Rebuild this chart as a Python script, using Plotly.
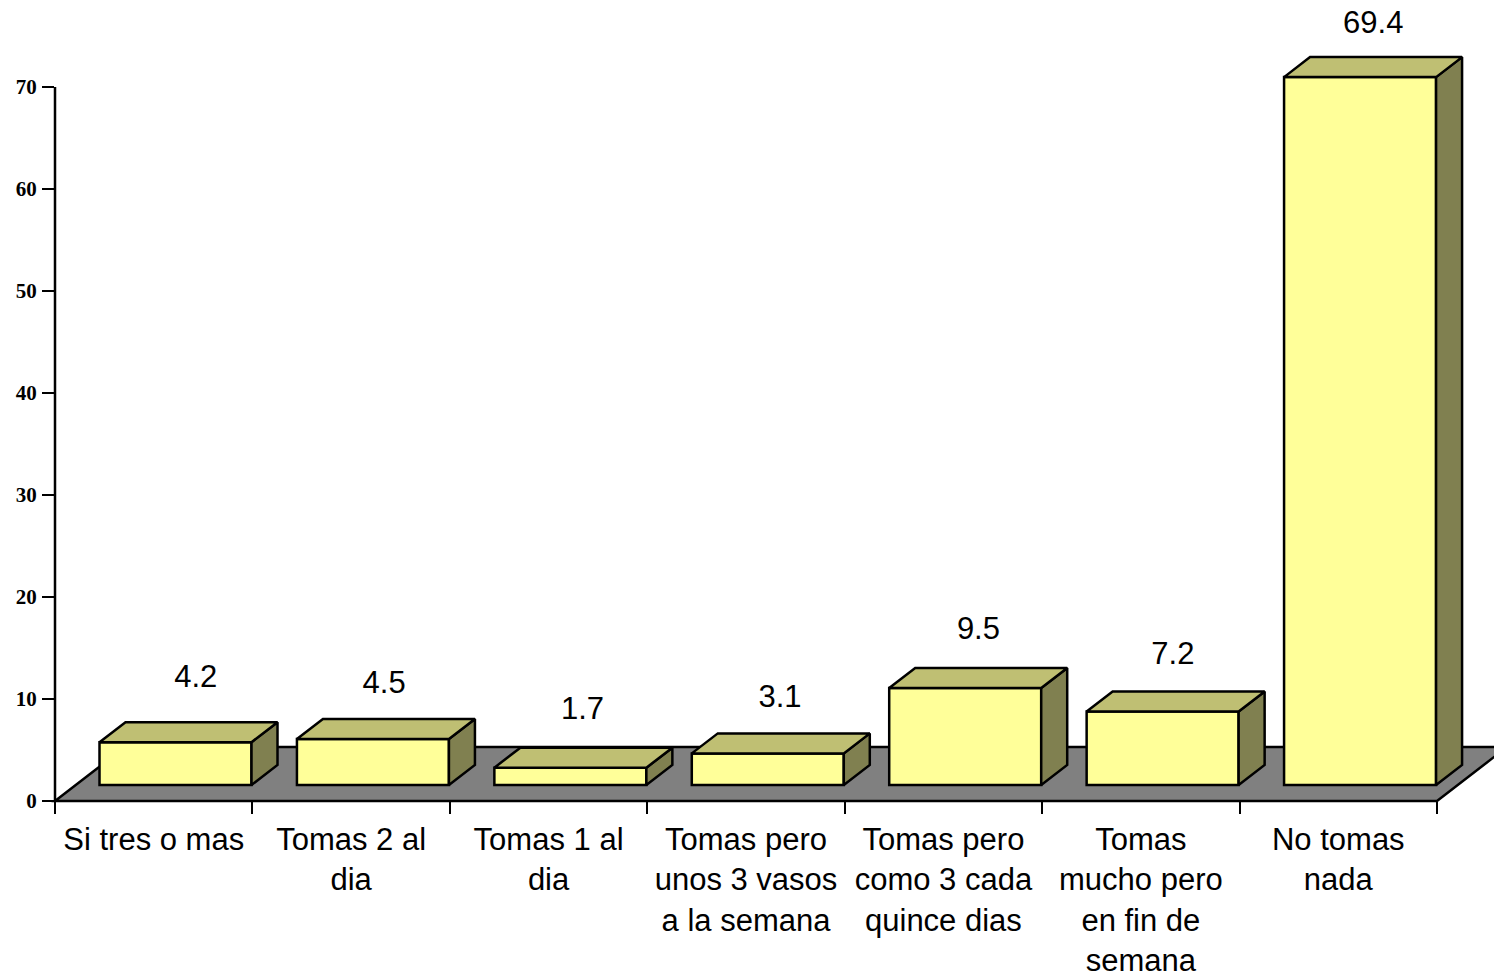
import plotly.graph_objects as go

categories = [
    "Si tres o mas",
    "Tomas 2 al<br>dia",
    "Tomas 1 al<br>dia",
    "Tomas pero<br>unos 3 vasos<br>a la semana",
    "Tomas pero<br>como 3 cada<br>quince dias",
    "Tomas<br>mucho pero<br>en fin de<br>semana",
    "No tomas<br>nada",
]
values = [4.2, 4.5, 1.7, 3.1, 9.5, 7.2, 69.4]
y_ticks = [0, 10, 20, 30, 40, 50, 60, 70]

# page size and where the axes sit on it, in pixels
WIDTH, HEIGHT = 1494, 975
LEFT, RIGHT, BOTTOM, TOP = 55, 1437, 801, 87
PX_X = (RIGHT - LEFT) / len(values)  # pixels per category
PX_Y = (BOTTOM - TOP) / 70  # pixels per unit

# the fake 3D look
BAR_W = 152 / PX_X
BAR_OFFSET = 44.5 / PX_X - 0.5  # left edge of a bar from the category centre
BASE = 16 / PX_Y
DEPTH_X = 26 / PX_X
DEPTH_Y = 20 / PX_Y
FLOOR_X = 70
FLOOR_Y = 54
LINE_W = 2.5

# how far each value label sits from its bar, in pixels
label_dx = [42, 33, 34, 34, 35, 32, 35]
label_dy = [63, 54, 56, 54, 57, 55, 52]

xs = list(range(len(values)))

tops_x, tops_y, sides_x, sides_y = [], [], [], []
for i, v in zip(xs, values):
    x0 = i + BAR_OFFSET
    x1 = x0 + BAR_W
    y0 = BASE
    y1 = BASE + v
    tops_x += [x0, x1, x1 + DEPTH_X, x0 + DEPTH_X, x0, None]
    tops_y += [y1, y1, y1 + DEPTH_Y, y1 + DEPTH_Y, y1, None]
    sides_x += [x1, x1 + DEPTH_X, x1 + DEPTH_X, x1, x1, None]
    sides_y += [y0, y0 + DEPTH_Y, y1 + DEPTH_Y, y1, y0, None]

fig = go.Figure()
fig.add_trace(go.Bar(
    x=xs, y=values, base=BASE, width=BAR_W, offset=BAR_OFFSET,
    marker=dict(color="#FFFF99", line=dict(color="black", width=LINE_W)),
))
fig.add_trace(go.Scatter(
    x=sides_x, y=sides_y, mode="lines", fill="toself", fillcolor="#808050",
    line=dict(color="black", width=LINE_W),
))
fig.add_trace(go.Scatter(
    x=tops_x, y=tops_y, mode="lines", fill="toself", fillcolor="#BFBF73",
    line=dict(color="black", width=LINE_W),
))
fig.add_trace(go.Scatter(
    x=[i + dx / PX_X for i, dx in zip(xs, label_dx)],
    y=[BASE + v + dy / PX_Y for v, dy in zip(values, label_dy)],
    mode="text", text=[str(v) for v in values], textposition="middle center",
    textfont=dict(family="Liberation Sans", size=31, color="black"),
    cliponaxis=False,
))

# floor under the bars, its front edge doubles as the x axis line
floor_path = "M {} {} L {} {} L {} {} L {} {} Z".format(
    LEFT / WIDTH, 1 - BOTTOM / HEIGHT,
    RIGHT / WIDTH, 1 - BOTTOM / HEIGHT,
    (RIGHT + FLOOR_X) / WIDTH, 1 - (BOTTOM - FLOOR_Y) / HEIGHT,
    (LEFT + FLOOR_X) / WIDTH, 1 - (BOTTOM - FLOOR_Y) / HEIGHT,
)
fig.add_shape(
    type="path", path=floor_path, xref="paper", yref="paper", layer="below",
    fillcolor="#808080", line=dict(color="black", width=LINE_W),
)
# y axis line stops at 70 though the plot goes on above it
fig.add_shape(
    type="line", xref="paper", yref="y",
    x0=LEFT / WIDTH, x1=LEFT / WIDTH, y0=0, y1=y_ticks[-1],
    line=dict(color="black", width=LINE_W),
)

fig.update_layout(
    template="none",
    width=WIDTH,
    height=HEIGHT,
    margin=dict(l=0, r=0, t=0, b=0),
    showlegend=False,
    barmode="overlay",
    plot_bgcolor="rgba(0,0,0,0)",
    paper_bgcolor="white",
    xaxis=dict(
        domain=[LEFT / WIDTH, 1],
        range=[-0.5, (WIDTH - LEFT) / PX_X - 0.5],
        automargin=False,
        tickmode="array",
        tickvals=xs,
        ticktext=categories,
        ticks="",
        ticklabelstandoff=17,
        tickfont=dict(family="Liberation Sans", size=31, color="black"),
        minor=dict(
            tickmode="array",
            tickvals=[i - 0.5 for i in range(len(values) + 1)],
            ticks="outside", ticklen=12, tickwidth=2, tickcolor="black",
        ),
        showgrid=False,
        zeroline=False,
        showline=False,
    ),
    yaxis=dict(
        domain=[1 - BOTTOM / HEIGHT, 1],
        range=[0, BOTTOM / PX_Y],
        automargin=False,
        tickmode="array",
        tickvals=y_ticks,
        ticks="outside",
        ticklen=12,
        tickwidth=2,
        tickcolor="black",
        tickfont=dict(family="Liberation Serif", size=21, color="black", weight="bold"),
        ticklabelstandoff=1,
        showgrid=False,
        zeroline=False,
        showline=False,
    ),
)

fig.write_html(
    "out.html",
    config={"displayModeBar": False},
    post_script="document.body.style.margin='0';",
)
